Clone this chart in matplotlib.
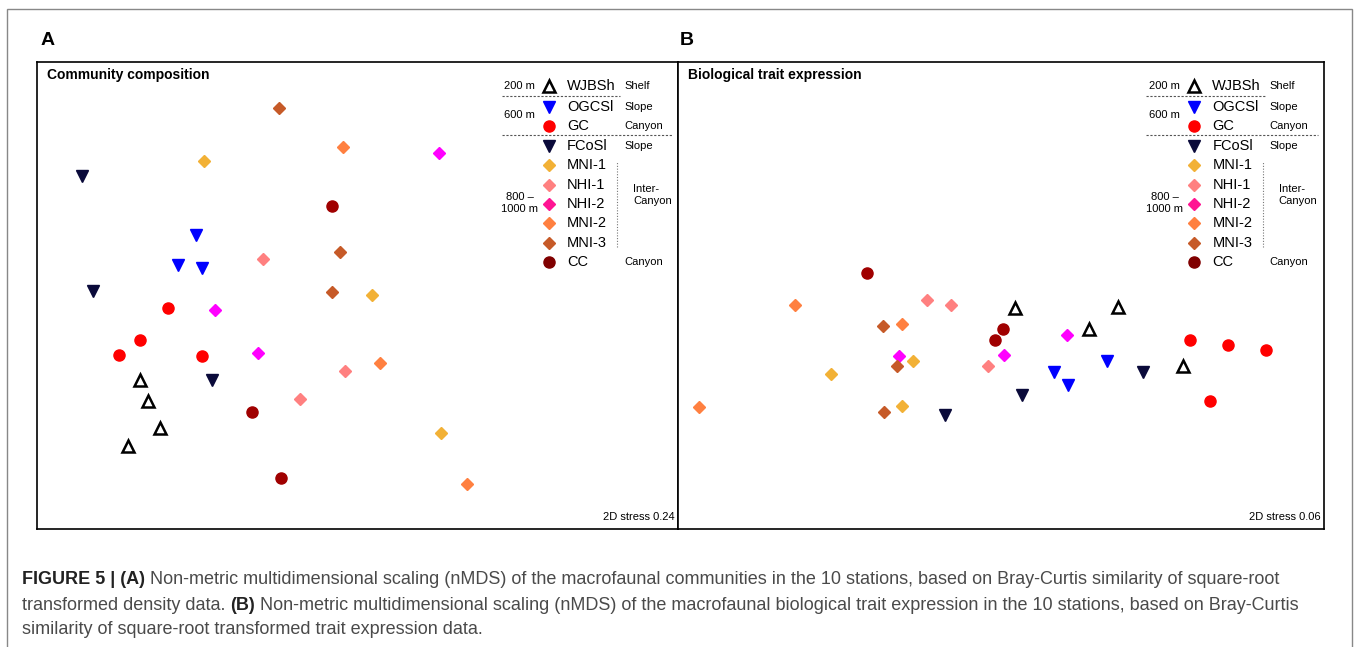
import matplotlib.pyplot as plt
from matplotlib.patches import Rectangle
from matplotlib.lines import Line2D

plt.rcParams['font.family'] = ['Liberation Sans', 'DejaVu Sans']

# station order, styles for legend and markers
stations = ['WJBSh', 'OGCSl', 'GC', 'FCoSl', 'MNI-1', 'NHI-1', 'NHI-2', 'MNI-2', 'MNI-3', 'CC']
groups = ['Shelf', 'Slope', 'Canyon', 'Slope', '', '', '', '', '', 'Canyon']

# nMDS coordinates (community composition)
comm_x = {
    'WJBSh': [-1.36, -1.31, -1.23, -1.43],
    'OGCSl': [-1.01, -1.12, -0.97],
    'GC': [-1.18, -1.36, -1.49, -0.97],
    'FCoSl': [-1.72, -1.65, -0.91],
    'MNI-1': [-0.96, 0.09, 0.52],
    'NHI-1': [-0.59, -0.08, -0.36],
    'NHI-2': [0.51, -0.89, -0.62],
    'MNI-2': [-0.09, 0.14, 0.68],
    'MNI-3': [-0.49, -0.11, -0.16],
    'CC': [-0.16, -0.66, -0.48],
}
comm_y = {
    'WJBSh': [-0.53, -0.66, -0.83, -0.94],
    'OGCSl': [0.38, 0.19, 0.17],
    'GC': [-0.08, -0.28, -0.37, -0.38],
    'FCoSl': [0.75, 0.03, -0.53],
    'MNI-1': [0.84, 0.00, -0.86],
    'NHI-1': [0.23, -0.47, -0.65],
    'NHI-2': [0.89, -0.09, -0.36],
    'MNI-2': [0.93, -0.42, -1.18],
    'MNI-3': [1.17, 0.27, 0.02],
    'CC': [0.56, -0.73, -1.14],
}

# nMDS coordinates (biological trait expression)
trait_x = {
    'WJBSh': [0.09, 0.73, 0.55, 1.14],
    'OGCSl': [0.66, 0.33, 0.42],
    'GC': [1.18, 1.42, 1.66, 1.31],
    'FCoSl': [0.89, 0.13, -0.35],
    'MNI-1': [-0.55, -1.06, -0.62],
    'NHI-1': [-0.46, -0.31, -0.08],
    'NHI-2': [0.41, -0.64, 0.02],
    'MNI-2': [-1.29, -0.62, -1.89],
    'MNI-3': [-0.74, -0.65, -0.73],
    'CC': [-0.84, 0.01, -0.04],
}
trait_y = {
    'WJBSh': [-0.08, -0.07, -0.21, -0.44],
    'OGCSl': [-0.41, -0.48, -0.56],
    'GC': [-0.28, -0.31, -0.34, -0.66],
    'FCoSl': [-0.48, -0.62, -0.75],
    'MNI-1': [-0.41, -0.49, -0.69],
    'NHI-1': [-0.03, -0.06, -0.44],
    'NHI-2': [-0.25, -0.38, -0.37],
    'MNI-2': [-0.06, -0.18, -0.70],
    'MNI-3': [-0.19, -0.44, -0.73],
    'CC': [0.14, -0.21, -0.28],
}

style = {
    'WJBSh': dict(marker='^', mfc='none', mec='black', mew=1.8, ms=9),
    'OGCSl': dict(marker='v', mfc='#0000FF', mec='#0000FF', ms=9),
    'GC': dict(marker='o', mfc='#FF0000', mec='#FF0000', ms=8),
    'FCoSl': dict(marker='v', mfc='#0A0A3A', mec='#0A0A3A', ms=9),
    'MNI-1': dict(marker='D', mfc='#F2B136', mec='#F2B136', ms=6.5),
    'NHI-1': dict(marker='D', mfc='#FF8080', mec='#FF8080', ms=6.5),
    'NHI-2': dict(marker='D', mfc='#FF00FF', mec='#FF00FF', ms=6.5),
    'MNI-2': dict(marker='D', mfc='#FF8040', mec='#FF8040', ms=6.5),
    'MNI-3': dict(marker='D', mfc='#C65A28', mec='#C65A28', ms=6.5),
    'CC': dict(marker='o', mfc='#A00000', mec='#A00000', ms=8),
}
legend_color = {'NHI-2': '#FF1493', 'CC': '#800000'}


def draw_legend(ax):
    # row positions in axes fraction
    rows = [0.949, 0.904, 0.863, 0.820, 0.779, 0.737, 0.696, 0.655, 0.612, 0.572]
    xm, xl, xg = 0.799, 0.827, 0.916
    for st, g, y in zip(stations, groups, rows):
        kw = dict(style[st])
        if st in legend_color:
            kw['mfc'] = kw['mec'] = legend_color[st]
        ax.plot([xm], [y], transform=ax.transAxes, ls='none', clip_on=False, **kw)
        ax.text(xl, y, st, transform=ax.transAxes, fontsize=10.5, va='center', ha='left')
        if g:
            ax.text(xg, y, g, transform=ax.transAxes, fontsize=8, va='center', ha='left')
    ax.text(0.753, 0.949, '200 m', transform=ax.transAxes, fontsize=8, va='center', ha='center')
    ax.text(0.753, 0.887, '600 m', transform=ax.transAxes, fontsize=8, va='center', ha='center')
    ax.text(0.753, 0.698, '800 –\n1000 m', transform=ax.transAxes, fontsize=8, va='center',
            ha='center', linespacing=1.3)
    ax.text(0.93, 0.715, 'Inter-\nCanyon', transform=ax.transAxes, fontsize=8, va='center',
            ha='left', linespacing=1.3)
    ax.add_line(Line2D([0.725, 0.91], [0.927, 0.927], transform=ax.transAxes,
                       color='#555555', lw=0.8, ls=(0, (2, 1.5))))
    ax.add_line(Line2D([0.725, 0.99], [0.844, 0.844], transform=ax.transAxes,
                       color='#555555', lw=0.8, ls=(0, (2, 1.5))))
    ax.add_line(Line2D([0.905, 0.905], [0.604, 0.786], transform=ax.transAxes,
                       color='#777777', lw=0.8, ls=(0, (1, 1.5))))


fig = plt.figure(figsize=(13.57, 6.47), dpi=100)

# outer frame
fig.patches.append(Rectangle((0.0052, -0.02), 0.9911, 1.006, transform=fig.transFigure,
                             fill=False, ec='#888888', lw=1.0))

axA = fig.add_axes([0.02727, 0.1824, 0.4724, 0.7218])
axB = fig.add_axes([0.4996, 0.1824, 0.4761, 0.7218])

panels = [
    (axA, comm_x, comm_y, 'Community composition', '2D stress 0.24', (-2.0, 2.0)),
    (axB, trait_x, trait_y, 'Biological trait expression', '2D stress 0.06', (-2.02, 2.02)),
]
for ax, xs, ys, title, stress, xlim in panels:
    for st in stations:
        ax.plot(xs[st], ys[st], ls='none', **style[st])
    ax.set_xlim(*xlim)
    ax.set_ylim(-1.46, 1.46)
    ax.set_xticks([])
    ax.set_yticks([])
    for sp in ax.spines.values():
        sp.set_linewidth(1.2)
    ax.text(0.016, 0.972, title, transform=ax.transAxes, fontsize=10, fontweight='bold',
            va='center', ha='left')
    ax.text(0.994, 0.026, stress, transform=ax.transAxes, fontsize=8, va='center', ha='right')
    draw_legend(ax)

fig.text(0.0295, 0.938, 'A', fontsize=14, fontweight='bold', va='center', ha='left')
fig.text(0.501, 0.938, 'B', fontsize=14, fontweight='bold', va='center', ha='left')

# caption, mixed bold/regular pieces laid out one after another
caption = [
    [('FIGURE 5 | (A)', True),
     (' Non-metric multidimensional scaling (nMDS) of the macrofaunal communities in the 10 stations, '
      'based on Bray-Curtis similarity of square-root', False)],
    [('transformed density data. ', False), ('(B)', True),
     (' Non-metric multidimensional scaling (nMDS) of the macrofaunal biological trait expression in '
      'the 10 stations, based on Bray-Curtis', False)],
    [('similarity of square-root transformed trait expression data.', False)],
]
line_y = [580, 605, 629]
fig.canvas.draw()
renderer = fig.canvas.get_renderer()
for parts, py in zip(caption, line_y):
    x = 22
    for txt, bold in parts:
        t = fig.text(x / 1357, 1 - py / 647, txt, fontsize=13,
                     fontweight='bold' if bold else 'normal',
                     color='#222222' if bold else '#4a4a4a', va='center', ha='left')
        x += t.get_window_extent(renderer).width

fig.savefig('out.png', dpi=100)
